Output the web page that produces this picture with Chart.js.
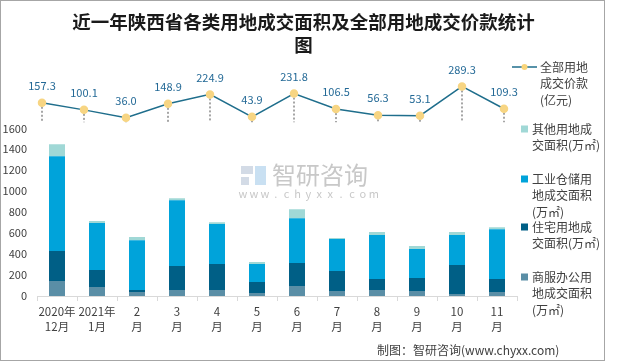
<!DOCTYPE html>
<html>
<head>
<meta charset="utf-8">
<script src="https://cdn.jsdelivr.net/npm/chart.js@4.4.1/dist/chart.umd.min.js"></script>
<style>
  body { margin: 0; background: #fff; }
  #wrap { width: 620px; height: 363px; }
</style>
</head>
<body>
<div id="wrap"><canvas id="chart" width="620" height="363"></canvas></div>
<script>
// categories
const months = [['2020年', '12月'], ['2021年', '1月'], ['2', '月'], ['3', '月'], ['4', '月'], ['5', '月'],
  ['6', '月'], ['7', '月'], ['8', '月'], ['9', '月'], ['10', '月'], ['11', '月']]

// 面积 (万㎡)
const commercialArea = [143, 86, 38, 57, 57, 29, 95, 48, 57, 48, 19, 38]
const residentialArea = [286, 162, 19, 229, 248, 105, 219, 190, 105, 124, 276, 124]
const industrialArea = [905, 448, 476, 629, 381, 171, 429, 305, 419, 276, 286, 476]
const otherArea = [114, 19, 29, 19, 19, 19, 86, 10, 29, 29, 29, 19]

// 价款 (亿元)
const totalPrice = [157.3, 100.1, 36.0, 148.9, 224.9, 43.9, 231.8, 106.5, 56.3, 53.1, 289.3, 109.3]

const yTicks = [0, 200, 400, 600, 800, 1000, 1200, 1400, 1600]

const font = '"Noto Sans CJK SC", "Noto Sans", sans-serif'
const textColor = '#404040'

const legendRows = [
  { lines: ['全部用地', '成交价款', '(亿元)'], color: '#1f6e8c', line: true },
  { lines: ['其他用地成', '交面积(万㎡)'], color: '#a0d8d6' },
  { lines: ['工业仓储用', '地成交面积', '(万㎡)'], color: '#00a3da' },
  { lines: ['住宅用地成', '交面积(万㎡)'], color: '#005f86' },
  { lines: ['商服办公用', '地成交面积', '(万㎡)'], color: '#5a8ea6' }
]
const legendTop = [67, 129, 179, 227, 277]

const extras = {
  id: 'extras',
  beforeDatasetsDraw(chart) {
    const ctx = chart.ctx
    ctx.save()
    // watermark
    ctx.fillStyle = '#d3dbe6'
    ctx.fillRect(241, 166, 12, 8)
    ctx.fillRect(241, 177, 8, 8)
    ctx.fillStyle = '#c9e0f2'
    ctx.fillRect(255, 166, 11, 19)
    ctx.fillStyle = '#c8c8c8'
    ctx.font = '24px ' + font
    ctx.textBaseline = 'middle'
    ctx.textAlign = 'left'
    ctx.fillText('智研咨询', 272, 175)
    ctx.font = '11px ' + font
    ctx.textAlign = 'center'
    'www.chyxx.com'.split('').forEach((c, i) => ctx.fillText(c, 243 + i * 10.9, 194))

    // drop lines
    const meta = chart.getDatasetMeta(4)
    const base = chart.scales.y2.getPixelForValue(0)
    ctx.strokeStyle = '#a6a6a6'
    ctx.lineWidth = 2
    ctx.setLineDash([2, 2])
    meta.data.forEach(p => {
      ctx.beginPath()
      ctx.moveTo(Math.round(p.x), p.y)
      ctx.lineTo(Math.round(p.x), base)
      ctx.stroke()
    })
    ctx.restore()
  },
  afterDatasetsDraw(chart) {
    const ctx = chart.ctx
    const meta = chart.getDatasetMeta(4)
    ctx.save()
    ctx.fillStyle = '#236996'
    ctx.font = '11px ' + font
    ctx.textAlign = 'center'
    ctx.textBaseline = 'middle'
    meta.data.forEach((p, i) => {
      ctx.fillText(totalPrice[i].toFixed(1), p.x, p.y - 17)
    })
    ctx.restore()
  },
  afterDraw(chart) {
    const ctx = chart.ctx
    ctx.save()
    ctx.font = '12px ' + font
    ctx.textBaseline = 'middle'
    ctx.textAlign = 'left'
    legendRows.forEach((row, i) => {
      const y = legendTop[i]
      if (row.line) {
        ctx.strokeStyle = row.color
        ctx.lineWidth = 1.5
        ctx.beginPath()
        ctx.moveTo(512, y)
        ctx.lineTo(537, y)
        ctx.stroke()
        ctx.fillStyle = '#f9d57a'
        ctx.beginPath()
        ctx.arc(524.5, y, 3, 0, Math.PI * 2)
        ctx.fill()
      } else {
        ctx.fillStyle = row.color
        ctx.fillRect(521, y - 3.5, 7, 7)
      }
      ctx.fillStyle = textColor
      row.lines.forEach((t, j) => ctx.fillText(t, row.line ? 540 : 532, y + j * 16.5))
    })

    ctx.fillText('制图：智研咨询(www.chyxx.com)', 377, 350)

    ctx.strokeStyle = '#a6a6a6'
    ctx.lineWidth = 1
    ctx.strokeRect(0.5, 0.5, 604, 360)
    ctx.restore()
  }
}

// grouped: false keeps the line on x2 from splitting each category into two slots
const barSet = (label, data, color) => ({
  type: 'bar', label, data, backgroundColor: color,
  xAxisID: 'x', yAxisID: 'y', grouped: false,
  barPercentage: 0.4, categoryPercentage: 1, order: 2
})

new Chart(document.getElementById('chart'), {
  data: {
    labels: months,
    datasets: [
      barSet('商服办公用地成交面积(万㎡)', commercialArea, '#5a8ea6'),
      barSet('住宅用地成交面积(万㎡)', residentialArea, '#005f86'),
      barSet('工业仓储用地成交面积(万㎡)', industrialArea, '#00a3da'),
      barSet('其他用地成交面积(万㎡)', otherArea, '#a0d8d6'),
      {
        type: 'line',
        label: '全部用地成交价款(亿元)',
        data: totalPrice.map((v, i) => ({ x: i, y: v })),
        xAxisID: 'x2', yAxisID: 'y2',
        borderColor: '#1f6e8c', borderWidth: 1.5,
        pointRadius: 3.5, pointBackgroundColor: '#f7d583', pointBorderColor: '#f7d583',
        tension: 0, order: 0
      }
    ]
  },
  options: {
    responsive: false,
    animation: false,
    devicePixelRatio: 1,
    layout: { padding: { left: 0, right: 13, top: 0, bottom: 27 } },
    plugins: {
      legend: { display: false },
      tooltip: { enabled: false },
      title: {
        display: true,
        text: ['近一年陕西省各类用地成交面积及全部用地成交价款统计', '图'],
        color: '#1a1a1a',
        font: { family: font, size: 18.5, weight: 'bold', lineHeight: 1.25 },
        padding: { top: 10, bottom: 4 }
      }
    },
    scales: {
      x: {
        stacked: true,
        grid: { display: true, drawOnChartArea: false, drawTicks: true, tickLength: 5, color: '#d9d9d9', offset: true },
        border: { color: '#d9d9d9' },
        ticks: { color: textColor, font: { family: font, size: 11.5, lineHeight: 1.3 }, padding: 3, maxRotation: 0, autoSkip: false },
        afterFit(s) { s.height = 40 }
      },
      x2: {
        type: 'linear', display: false, min: -5 / 42, max: 475 / 42
      },
      y: {
        stacked: true,
        min: 0, max: 2250,
        grid: { display: false, drawTicks: false },
        border: { display: false },
        afterBuildTicks(s) { s.ticks = yTicks.map(v => ({ value: v })) },
        ticks: { color: textColor, font: { family: font, size: 11 }, padding: 10, callback: v => String(v) },
        afterFit(s) { s.width = 37 }
      },
      y2: {
        type: 'linear', position: 'right', min: -1400, max: 500,
        grid: { display: false, drawTicks: false },
        border: { display: false },
        ticks: { display: false },
        afterFit(s) { s.width = 90 }
      }
    }
  },
  plugins: [extras]
})
</script>
</body>
</html>
